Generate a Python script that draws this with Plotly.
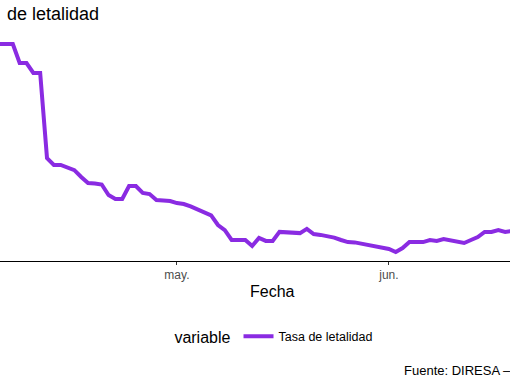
import plotly.graph_objects as go
import pandas as pd

# Data: daily lethality rate
dates = pd.date_range("2020-04-04", "2020-06-19", freq="D").strftime("%Y-%m-%d").tolist()
tasa = [
    9.23, 9.23, 9.23, 9.23, 8.60, 8.60, 8.27, 8.27, 5.43, 5.20,
    5.20, 5.10, 5.03, 4.80, 4.60, 4.58, 4.55, 4.20, 4.07, 4.07,
    4.50, 4.50, 4.27, 4.23, 4.03, 4.02, 4.00, 3.93, 3.90, 3.82,
    3.73, 3.63, 3.52, 3.20, 3.03, 2.70, 2.70, 2.70, 2.50, 2.77,
    2.67, 2.67, 2.97, 2.95, 2.93, 2.93, 3.07, 2.90, 2.87, 2.83,
    2.78, 2.70, 2.63, 2.62, 2.58, 2.52, 2.48, 2.47, 2.40, 2.30,
    2.43, 2.63, 2.63, 2.63, 2.70, 2.67, 2.73, 2.68, 2.63, 2.60,
    2.70, 2.80, 2.97, 2.97, 3.03, 2.97, 3.00,
]
tick_vals = ["2020-05-01", "2020-06-01"]
tick_text = ["may.", "jun."]
series_name = "Tasa de letalidad"

fig = go.Figure()
fig.add_trace(go.Scatter(
    x=dates, y=tasa, mode="lines", name=series_name,
    line=dict(color="#8A2BE2", width=4),
))

fig.update_layout(
    width=510, height=382,
    margin=dict(l=0, r=0, t=30, b=121, autoexpand=False),
    plot_bgcolor="white", paper_bgcolor="white",
    font=dict(family="Liberation Sans, Arial, sans-serif", color="black"),
    showlegend=True,
    legend=dict(
        orientation="h", x=0.338, xanchor="left", y=-0.33, yanchor="middle",
        title=dict(text="variable", font=dict(size=16, color="black"), side="left"),
        font=dict(size=12.5, color="black"),
        itemwidth=30,
    ),
    xaxis=dict(
        type="date",
        range=["2020-04-05 03:00", "2020-06-18 17:00"],
        tickvals=tick_vals, ticktext=tick_text,
        ticks="outside", ticklen=3, tickcolor="#333333", tickwidth=1,
        tickfont=dict(size=12, color="#4d4d4d"),
        showline=True, linecolor="black", linewidth=1,
        showgrid=False, zeroline=False,
    ),
    yaxis=dict(
        range=[2.0, 9.7], showticklabels=False, showgrid=False,
        zeroline=False, showline=False, ticks="",
    ),
    annotations=[
        dict(text="de letalidad", xref="paper", yref="paper",
             x=5/510, y=1 + 16/231, xanchor="left", yanchor="middle",
             showarrow=False, font=dict(size=18, color="black")),
        dict(text="Fecha", xref="paper", yref="paper",
             x=272/510, y=-30/231, xanchor="center", yanchor="middle",
             showarrow=False, font=dict(size=16, color="black")),
        dict(text="Fuente: DIRESA \u2013", xref="paper", yref="paper",
             x=402/510, y=-109/231, xanchor="left", yanchor="middle",
             showarrow=False, font=dict(size=13, color="black")),
    ],
)

fig.write_html(
    "out.html",
    config={"displayModeBar": False},
    post_script="document.body.style.margin='0';document.body.style.overflow='hidden';",
)
